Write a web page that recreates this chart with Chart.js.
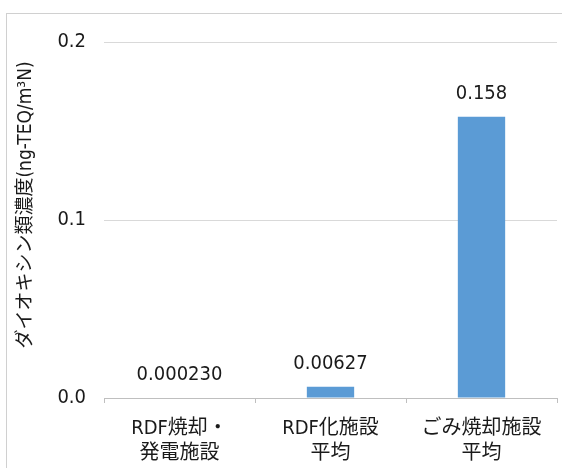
<!DOCTYPE html>
<html>
<head>
<meta charset="utf-8">
<script src="https://cdn.jsdelivr.net/npm/chart.js@4/dist/chart.umd.min.js"></script>
<style>
html,body{margin:0;padding:0;background:#fff;}
#wrap{width:562px;height:468px;position:relative;}
</style>
</head>
<body>
<div id="wrap"><canvas id="c" width="562" height="468"></canvas></div>
<script>
const categories = [["RDF焼却・", "発電施設"], ["RDF化施設", "平均"], ["ごみ焼却施設", "平均"]];
const values = [0.000230, 0.00627, 0.158];
const valueLabels = ["0.000230", "0.00627", "0.158"];
const yTicks = [0, 0.1, 0.2];
const yTitle = "ダイオキシン類濃度(ng-TEQ/m³N)";

const FONT = "'DejaVu Sans Condensed', 'Noto Sans CJK JP', sans-serif";
const TEXT = '#1a1a1a';

const frame = {
  id: 'frame',
  beforeDraw(chart) {
    const ctx = chart.ctx;
    ctx.save();
    ctx.fillStyle = '#fff';
    ctx.fillRect(0, 0, chart.width, chart.height);
    ctx.strokeStyle = '#d0d0d0';
    ctx.lineWidth = 1;
    ctx.strokeRect(6.5, 13.5, 700, 700);
    ctx.restore();
  },
  afterDraw(chart) {
    const ctx = chart.ctx;
    ctx.save();
    ctx.fillStyle = TEXT;
    ctx.font = '19px ' + FONT;
    ctx.translate(26, 205);
    ctx.rotate(-Math.PI / 2);
    ctx.textAlign = 'center';
    ctx.textBaseline = 'middle';
    ctx.fillText(yTitle, 0, 0);
    ctx.restore();
    const meta = chart.getDatasetMeta(0);
    ctx.save();
    ctx.fillStyle = TEXT;
    ctx.font = '20px ' + FONT;
    ctx.textAlign = 'center';
    ctx.textBaseline = 'alphabetic';
    meta.data.forEach((bar, i) => {
      ctx.fillText(valueLabels[i], bar.x, bar.y - 18);
    });
    ctx.restore();
  }
};

new Chart(document.getElementById('c'), {
  type: 'bar',
  data: {
    labels: categories,
    datasets: [{
      data: values,
      backgroundColor: '#5B9BD5',
      borderWidth: 0,
      categoryPercentage: 1,
      barPercentage: 1 / 3.19
    }]
  },
  options: {
    responsive: false,
    animation: false,
    devicePixelRatio: 1,
    layout: { padding: { top: 42, right: 5, left: 0, bottom: 0 } },
    plugins: { legend: { display: false }, tooltip: { enabled: false } },
    scales: {
      x: {
        offset: true,
        grid: { drawOnChartArea: false, drawTicks: true, tickLength: 5, color: '#bfbfbf', offset: true },
        border: { display: true, color: '#bfbfbf', width: 1 },
        ticks: { color: TEXT, font: { family: FONT, size: 20, lineHeight: 1.25 }, padding: 13, maxRotation: 0, autoSkip: false },
        afterFit(s) { s.height = 70; }
      },
      y: {
        min: yTicks[0],
        max: yTicks[yTicks.length - 1],
        afterBuildTicks(s) { s.ticks = yTicks.map(v => ({ value: v })); },
        grid: { drawTicks: false, color: (c) => (c.tick && c.tick.value === 0) ? 'rgba(0,0,0,0)' : '#d9d9d9' },
        border: { display: false },
        ticks: { color: TEXT, font: { family: FONT, size: 20 }, padding: 18, callback: (v) => Number(v).toFixed(1) },
        afterFit(s) { s.width = 104; }
      }
    }
  },
  plugins: [frame]
});
</script>
</body>
</html>
